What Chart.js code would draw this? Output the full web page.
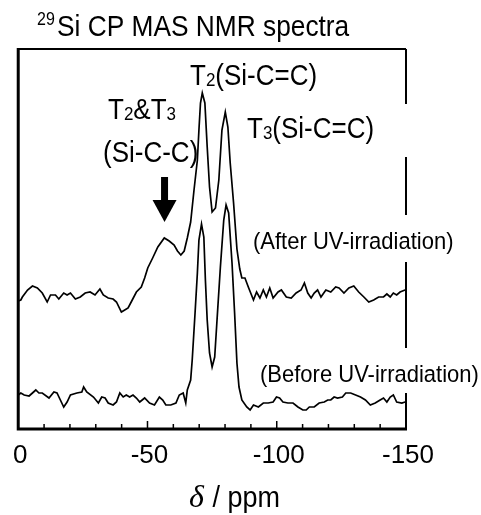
<!DOCTYPE html>
<html>
<head>
<meta charset="utf-8">
<script src="https://cdn.jsdelivr.net/npm/chart.js@4.4.1/dist/chart.umd.min.js"></script>
<style>
  body { margin: 0; background: #fff; }
  canvas { display: block; }
</style>
</head>
<body>
<canvas id="nmrChart" width="481" height="515"></canvas>
<script>
// chemical shift (ppm) and intensity (a.u.)
const ppmAfter = [0, -1.0, -1.6, -3.6, -5.5, -7.4, -9.3, -11.2, -12.5, -14.4,
    -15.7, -17.6, -18.9, -20.2, -22.1, -24.0, -25.9, -27.8, -29.7, -31.6,
    -32.9, -34.8, -36.7, -38.0, -39.9, -41.2, -42.5, -43.7, -45.7, -47.6,
    -48.9, -50.1, -52.0, -54.0, -56.5, -58.4, -60.3, -61.6, -62.9, -64.2,
    -65.4, -66.7, -68.0, -69.3, -69.9, -70.5, -71.2, -72.2, -73.1, -74.0,
    -75.0, -76.3, -77.6, -78.8, -80.1, -81.1, -82.0, -83.3, -84.6, -85.7,
    -86.5, -87.7, -89.0, -91.0, -92.2, -93.5, -94.8, -96.0, -97.3, -98.6,
    -100.5, -101.8, -103.7, -105.6, -107.5, -109.4, -110.7, -112.0, -113.3, -114.5,
    -115.8, -117.1, -119.0, -120.9, -122.8, -124.1, -126.0, -127.9, -129.8, -131.7,
    -133.7, -135.6, -137.5, -139.4, -141.3, -142.6, -143.9, -145.1, -146.4, -147.7,
    -149.6, -150];
const intAfter = [128, 129, 132, 139, 143, 141, 136, 127, 134, 134,
    130, 136, 134, 136, 130, 132, 136, 137, 134, 140,
    134, 131, 130, 127, 117, 119, 121, 127, 137, 142,
    151, 161, 171, 182, 191, 188, 184, 178, 174, 178,
    191, 207, 239, 269, 299, 326, 336, 326, 282, 242,
    217, 221, 249, 299, 317, 302, 266, 226, 180, 160,
    151, 151, 142, 129, 137, 131, 139, 132, 141, 131,
    137, 139, 132, 131, 136, 139, 146, 136, 131, 136,
    139, 132, 139, 137, 142, 141, 136, 141, 143, 137,
    132, 127, 129, 132, 132, 135, 132, 136, 134, 137,
    139, 139];

const ppmBefore = [0, -1.0, -2.3, -4.2, -5.5, -6.8, -8.0, -9.3, -11.9, -13.8,
    -15.0, -16.3, -17.6, -18.9, -20.2, -22.7, -24.6, -25.3, -26.5, -29.1,
    -31.0, -32.3, -33.6, -34.8, -36.7, -38.0, -39.3, -40.6, -41.8, -43.1,
    -44.4, -45.7, -47.0, -48.9, -50.8, -52.7, -54.6, -55.9, -57.1, -59.0,
    -61.0, -62.3, -63.8, -64.8, -65.4, -66.7, -67.3, -68.4, -69.3, -69.9,
    -70.9, -71.8, -72.4, -73.1, -74.0, -75.0, -76.0, -76.9, -78.2, -79.5,
    -80.4, -81.4, -82.7, -83.7, -84.6, -85.4, -86.5, -88.4, -89.7, -91.0,
    -92.9, -94.8, -96.7, -98.6, -99.9, -101.1, -102.4, -104.3, -106.3, -108.2,
    -110.1, -111.4, -112.6, -114.5, -116.4, -118.4, -119.7, -120.9, -122.2, -123.5,
    -125.4, -126.7, -128.6, -130.5, -132.4, -134.3, -136.2, -138.1, -140.0, -141.3,
    -142.6, -143.9, -145.1, -146.4, -148.4, -149.6, -150];
const intBefore = [34, 36, 34, 33, 36, 39, 36, 36, 31, 37,
    36, 29, 22, 27, 34, 36, 37, 42, 37, 32,
    26, 32, 31, 26, 24, 27, 36, 32, 34, 32,
    34, 31, 27, 31, 26, 24, 32, 29, 24, 24,
    26, 34, 36, 26, 39, 49, 69, 116, 156, 189,
    205, 192, 149, 109, 76, 62, 72, 109, 162, 209,
    224, 216, 166, 116, 66, 42, 29, 22, 19, 24,
    22, 26, 26, 27, 32, 31, 27, 26, 26, 22,
    19, 19, 22, 22, 26, 27, 29, 29, 32, 31,
    32, 36, 36, 34, 32, 29, 24, 26, 29, 31,
    27, 32, 34, 27, 26, 27, 27];

const xTickLabels = [0, -50, -100, -150];

const FONT = '"Liberation Sans", Arial, sans-serif';

function toPoints(xs, ys) {
    return xs.map((x, i) => ({ x: x, y: ys[i] }));
}

// draws a row of text pieces (normal / sub / sup), slightly stretched vertically
function drawRuns(ctx, runs, x, y, sy) {
    runs.forEach(r => {
        ctx.font = (r.italic ? 'italic ' : '') + r.size + 'px ' + (r.family || FONT);
        ctx.save();
        ctx.translate(x, y + (r.dy || 0));
        ctx.scale(1, sy);
        ctx.fillText(r.t, 0, 0);
        ctx.restore();
        x += ctx.measureText(r.t).width;
    });
}

const framePlugin = {
    id: 'frame',
    afterDatasetsDraw(chart) {
        const ctx = chart.ctx;
        const a = chart.chartArea;
        const xs = chart.scales.x;
        ctx.save();
        ctx.strokeStyle = '#000';
        ctx.fillStyle = '#000';
        ctx.lineCap = 'butt';

        // frame
        ctx.lineWidth = 2;
        ctx.beginPath();
        ctx.moveTo(a.left, a.top); ctx.lineTo(a.right, a.top);
        ctx.moveTo(a.right, a.top); ctx.lineTo(a.right, a.bottom);
        ctx.stroke();
        ctx.lineWidth = 3;
        ctx.beginPath();
        ctx.moveTo(a.left, a.top - 1); ctx.lineTo(a.left, a.bottom + 1.5);
        ctx.moveTo(a.left - 1.5, a.bottom); ctx.lineTo(a.right + 1, a.bottom);
        ctx.stroke();

        // inward tick marks
        ctx.lineWidth = 1.5;
        ctx.beginPath();
        xs.ticks.forEach(t => {
            const px = xs.getPixelForValue(t.value);
            const len = xTickLabels.includes(t.value) ? 8 : 5;
            ctx.moveTo(px, a.bottom);
            ctx.lineTo(px, a.bottom - len);
        });
        ctx.stroke();

        // gaps in the right frame line behind labels
        ctx.fillStyle = '#fff';
        [[104, 157], [215, 262], [348, 393]].forEach(g => {
            ctx.fillRect(a.right - 3, g[0], 6, g[1] - g[0]);
        });

        ctx.fillStyle = '#000';
        ctx.textBaseline = 'alphabetic';
        ctx.textAlign = 'left';
        const sy = 1.12;

        // title
        drawRuns(ctx, [{ t: '29', size: 16, dy: -11 }], 37, 36, sy);
        drawRuns(ctx, [{ t: 'Si CP MAS NMR spectra', size: 26.3 }], 57, 36, sy);

        // peak labels
        drawRuns(ctx, [{ t: 'T', size: 26 }, { t: '2', size: 17, dy: 1 }, { t: '(Si-C=C)', size: 26 }], 190, 85, sy);
        drawRuns(ctx, [{ t: 'T', size: 26 }, { t: '3', size: 17, dy: 1 }, { t: '(Si-C=C)', size: 26 }], 247, 138, sy);
        drawRuns(ctx, [{ t: 'T', size: 26 }, { t: '2', size: 17, dy: 1 }, { t: '&T', size: 26 }, { t: '3', size: 17, dy: 1 }], 108, 119, sy);
        drawRuns(ctx, [{ t: '(Si-C-C)', size: 26 }], 103, 162, sy);

        // spectrum labels
        drawRuns(ctx, [{ t: '(After UV-irradiation)', size: 22 }], 253, 249, sy);
        drawRuns(ctx, [{ t: '(Before UV-irradiation)', size: 22 }], 260, 382, sy);

        // arrow pointing at the broad shoulder
        const ax = xs.getPixelForValue(-56.6);
        ctx.fillRect(ax - 3.5, 177, 7, 25);
        ctx.beginPath();
        ctx.moveTo(ax - 12, 200);
        ctx.lineTo(ax + 12, 200);
        ctx.lineTo(ax, 222);
        ctx.closePath();
        ctx.fill();

        // axis title
        drawRuns(ctx, [{ t: 'δ', size: 32, italic: true, family: '"Liberation Serif", serif' }], 189, 507, 1);
        drawRuns(ctx, [{ t: ' / ppm', size: 27 }], 205, 507, sy);

        ctx.restore();
    }
};

const ctx = document.getElementById('nmrChart').getContext('2d');
const nmrChart = new Chart(ctx, {
    type: 'line',
    data: {
        datasets: [{
            label: 'After UV-irradiation',
            data: toPoints(ppmAfter, intAfter),
            borderColor: '#000',
            borderWidth: 1.7,
            pointRadius: 0,
            tension: 0,
            fill: false
        }, {
            label: 'Before UV-irradiation',
            data: toPoints(ppmBefore, intBefore),
            borderColor: '#000',
            borderWidth: 1.7,
            pointRadius: 0,
            tension: 0,
            fill: false
        }]
    },
    options: {
        responsive: false,
        animation: false,
        devicePixelRatio: 1,
        layout: {
            padding: { left: 14, right: 75, top: 49, bottom: 0 }
        },
        plugins: {
            legend: { display: false },
            tooltip: { enabled: false }
        },
        scales: {
            x: {
                type: 'linear',
                min: -150,
                max: 0,
                reverse: true,
                grid: { display: false, drawTicks: false },
                border: { display: false },
                ticks: {
                    stepSize: 10,
                    autoSkip: false,
                    maxRotation: 0,
                    padding: 11,
                    labelOffset: 2,
                    color: '#000',
                    font: { family: FONT, size: 26 },
                    callback: v => xTickLabels.includes(v) ? String(v) : ''
                },
                afterFit: scale => { scale.height = 86; }
            },
            y: {
                display: false,
                min: 0,
                max: 380
            }
        }
    },
    plugins: [framePlugin]
});
</script>
</body>
</html>
